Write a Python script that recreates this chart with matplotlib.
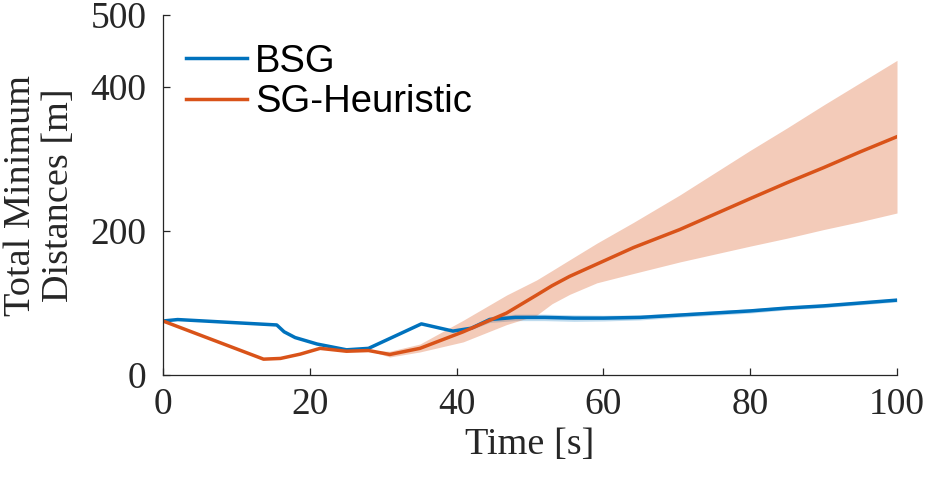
import numpy as np
import matplotlib
matplotlib.use("Agg")
import matplotlib.pyplot as plt

# BSG mean and band
bsg_t = [0, 2, 15.5, 16.5, 18, 21, 25, 28, 35.2, 39.5, 42, 44.5, 48, 52, 56, 60, 65, 70, 75, 80, 85, 90, 95, 100]
bsg_mean = [75, 77, 69.5, 60, 52, 43, 35, 37, 71, 61, 65, 77, 80, 80, 79, 79, 80, 83, 86, 89, 93, 96, 100, 104]
bsg_half = [0, 0, 0, 0, 0, 0, 0, 0, 0, 0, 2, 4, 4.5, 4.5, 4.5, 4, 3.5, 3, 3, 3, 2.5, 2.5, 2.5, 2.5]

# SG-Heuristic mean and band
sg_t = [0, 13.7, 16, 18.7, 21.4, 25, 28, 30.9, 35, 40.9, 46.8, 50.9, 53, 55.4, 59.1, 64.1, 70.4, 80, 85, 90, 95, 100]
sg_mean = [75, 22, 23, 29, 37, 33, 34, 28.5, 37, 60, 86, 111, 124, 137, 154, 177, 202, 245, 267, 288, 310, 331]
sg_upper = [75, 22, 23, 29, 37, 33, 34, 33, 43, 76, 111, 132, 145, 160, 183, 212, 250, 312, 343, 375, 406, 437]
sg_lower = [75, 22, 23, 29, 37, 33, 34, 25, 32, 46, 70, 83, 99, 112, 128, 141, 157, 179, 190, 202, 213, 225]

xticks = [0, 20, 40, 60, 80, 100]
yticks = [0, 200, 400, 500]

blue = "#0072BD"
orange = "#D95319"
axc = "#262626"

fig = plt.figure(figsize=(9.29, 4.78), dpi=100)
ax = fig.add_axes([163/929, 103/478, 734/929, 360/478])

bt = np.array(bsg_t); bm = np.array(bsg_mean); bh = np.array(bsg_half)
ax.fill_between(bt, bm - bh, bm + bh, color=blue, alpha=0.25, linewidth=0)
ax.fill_between(sg_t, sg_lower, sg_upper, color=orange, alpha=0.3, linewidth=0)
ax.plot(bsg_t, bsg_mean, color=blue, lw=2.5, label="BSG")
ax.plot(sg_t, sg_mean, color=orange, lw=2.5, label="SG-Heuristic")

ax.set_xlim(0, 100)
ax.set_ylim(0, 500)
ax.set_xticks(xticks)
ax.set_yticks(yticks)
for s in ["top", "right"]:
    ax.spines[s].set_visible(False)
for s in ["left", "bottom"]:
    ax.spines[s].set_color(axc)
    ax.spines[s].set_linewidth(0.9)

serif = "Liberation Serif"
ax.tick_params(direction="in", length=5, width=0.9, color=axc, labelcolor=axc)
ax.tick_params(axis="x", pad=9)
ax.tick_params(axis="y", pad=12)
for lab in ax.get_xticklabels() + ax.get_yticklabels():
    lab.set_fontfamily(serif)
    lab.set_fontsize(27)

ax.set_xlabel("Time [s]", fontfamily=serif, fontsize=27.5, color=axc, labelpad=4)
ax.set_ylabel("Total Minimum\nDistances [m]", fontfamily=serif, fontsize=27.5, color=axc,
              linespacing=1.15, labelpad=10)

leg = ax.legend(loc="upper left", bbox_to_anchor=(-0.005, 0.995), frameon=False,
                prop={"family": "Liberation Sans", "size": 27.5},
                handlelength=1.6, handletextpad=0.2, labelspacing=0.12, borderaxespad=0.3)

fig.savefig("out.png", dpi=100)
